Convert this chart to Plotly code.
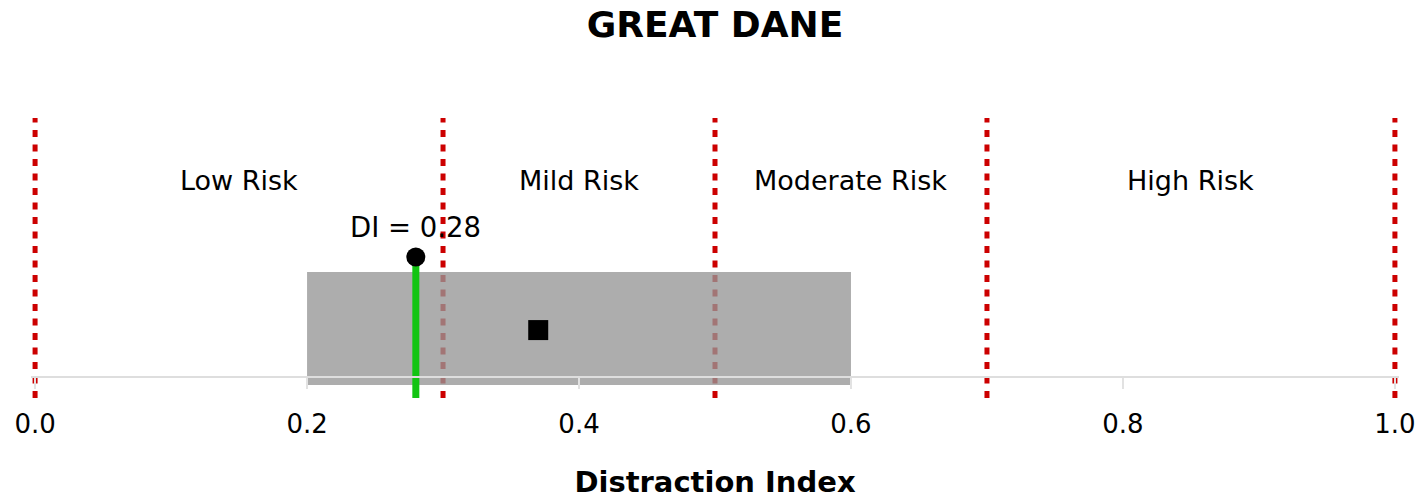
import plotly.graph_objects as go

# Data
title_text = "GREAT DANE"
boundaries = [0.0, 0.3, 0.5, 0.7, 1.0]
zone_labels = ["Low Risk", "Mild Risk", "Moderate Risk", "High Risk"]
zone_centers = [0.15, 0.4, 0.6, 0.85]
di_value = 0.28
breed_low, breed_high = 0.2, 0.6
breed_mean = 0.37
tick_vals = [0.0, 0.2, 0.4, 0.6, 0.8, 1.0]
tick_text = ["0.0", "0.2", "0.4", "0.6", "0.8", "1.0"]

FONT = "DejaVu Sans"

fig = go.Figure()

shapes = []
# vertical zone boundaries (dotted red)
for b in boundaries:
    shapes.append(dict(type="line", xref="x", yref="paper", x0=b, x1=b, y0=-0.085, y1=1.0,
                       line=dict(color="#cc0000", width=5, dash="7px,7.5px"), layer="below"))
# breed range box (semi-transparent, over the red lines)
shapes.append(dict(type="rect", xref="x", yref="paper", x0=breed_low, x1=breed_high, y0=-0.035, y1=0.403,
                   fillcolor="rgba(150,150,150,0.78)", line=dict(width=0), layer="below"))
# DI stem
shapes.append(dict(type="line", xref="x", yref="paper", x0=di_value, x1=di_value, y0=-0.085, y1=0.45,
                   line=dict(color="#12c412", width=7), layer="below"))

# breed mean
fig.add_trace(go.Scatter(x=[breed_mean], y=[0.178], mode="markers",
                         marker=dict(symbol="square", size=20, color="black"),
                         cliponaxis=False, showlegend=False, hoverinfo="skip"))
# DI dot
fig.add_trace(go.Scatter(x=[di_value], y=[0.461], mode="markers",
                         marker=dict(symbol="circle", size=19, color="black"),
                         cliponaxis=False, showlegend=False, hoverinfo="skip"))

annotations = []
for lab, cx in zip(zone_labels, zone_centers):
    annotations.append(dict(x=cx, y=0.756, xref="x", yref="y", text=lab, showarrow=False,
                            font=dict(family=FONT, size=27, color="black")))
annotations.append(dict(x=di_value, y=0.578, xref="x", yref="y", text=f"DI = {di_value:.2f}",
                        showarrow=False, xanchor="left", xshift=-68,
                        font=dict(family=FONT, size=27.5, color="black")))

fig.update_layout(
    width=1417, height=499,
    margin=dict(l=31, r=18, t=118, b=123, autoexpand=False),
    paper_bgcolor="white", plot_bgcolor="white",
    title=dict(text=f"<b>{title_text}</b>", x=0.5, xanchor="center", xref="paper",
               y=0.952, yanchor="middle", yref="container",
               font=dict(family=FONT, size=36, color="black")),
    shapes=shapes, annotations=annotations,
    xaxis=dict(range=[-0.003, 1.003], tickvals=tick_vals, ticktext=tick_text, showgrid=False,
               zeroline=False, showline=True, linecolor="#dedede", linewidth=2, ticks="outside",
               ticklen=11, tickcolor="#e2e2e2", tickwidth=2, automargin=False,
               ticklabelstandoff=13,
               tickfont=dict(family=FONT, size=26, color="black"),
               title=dict(text="<b>Distraction Index</b>", font=dict(family=FONT, size=29, color="black"),
                          standoff=51)),
    yaxis=dict(range=[0, 1], visible=False, showgrid=False, zeroline=False, fixedrange=True,
               automargin=False),
    font=dict(family=FONT),
)

fig.write_html("out.html",
               config={"displayModeBar": False},
               post_script="document.body.style.margin='0';document.body.style.overflow='hidden';")
